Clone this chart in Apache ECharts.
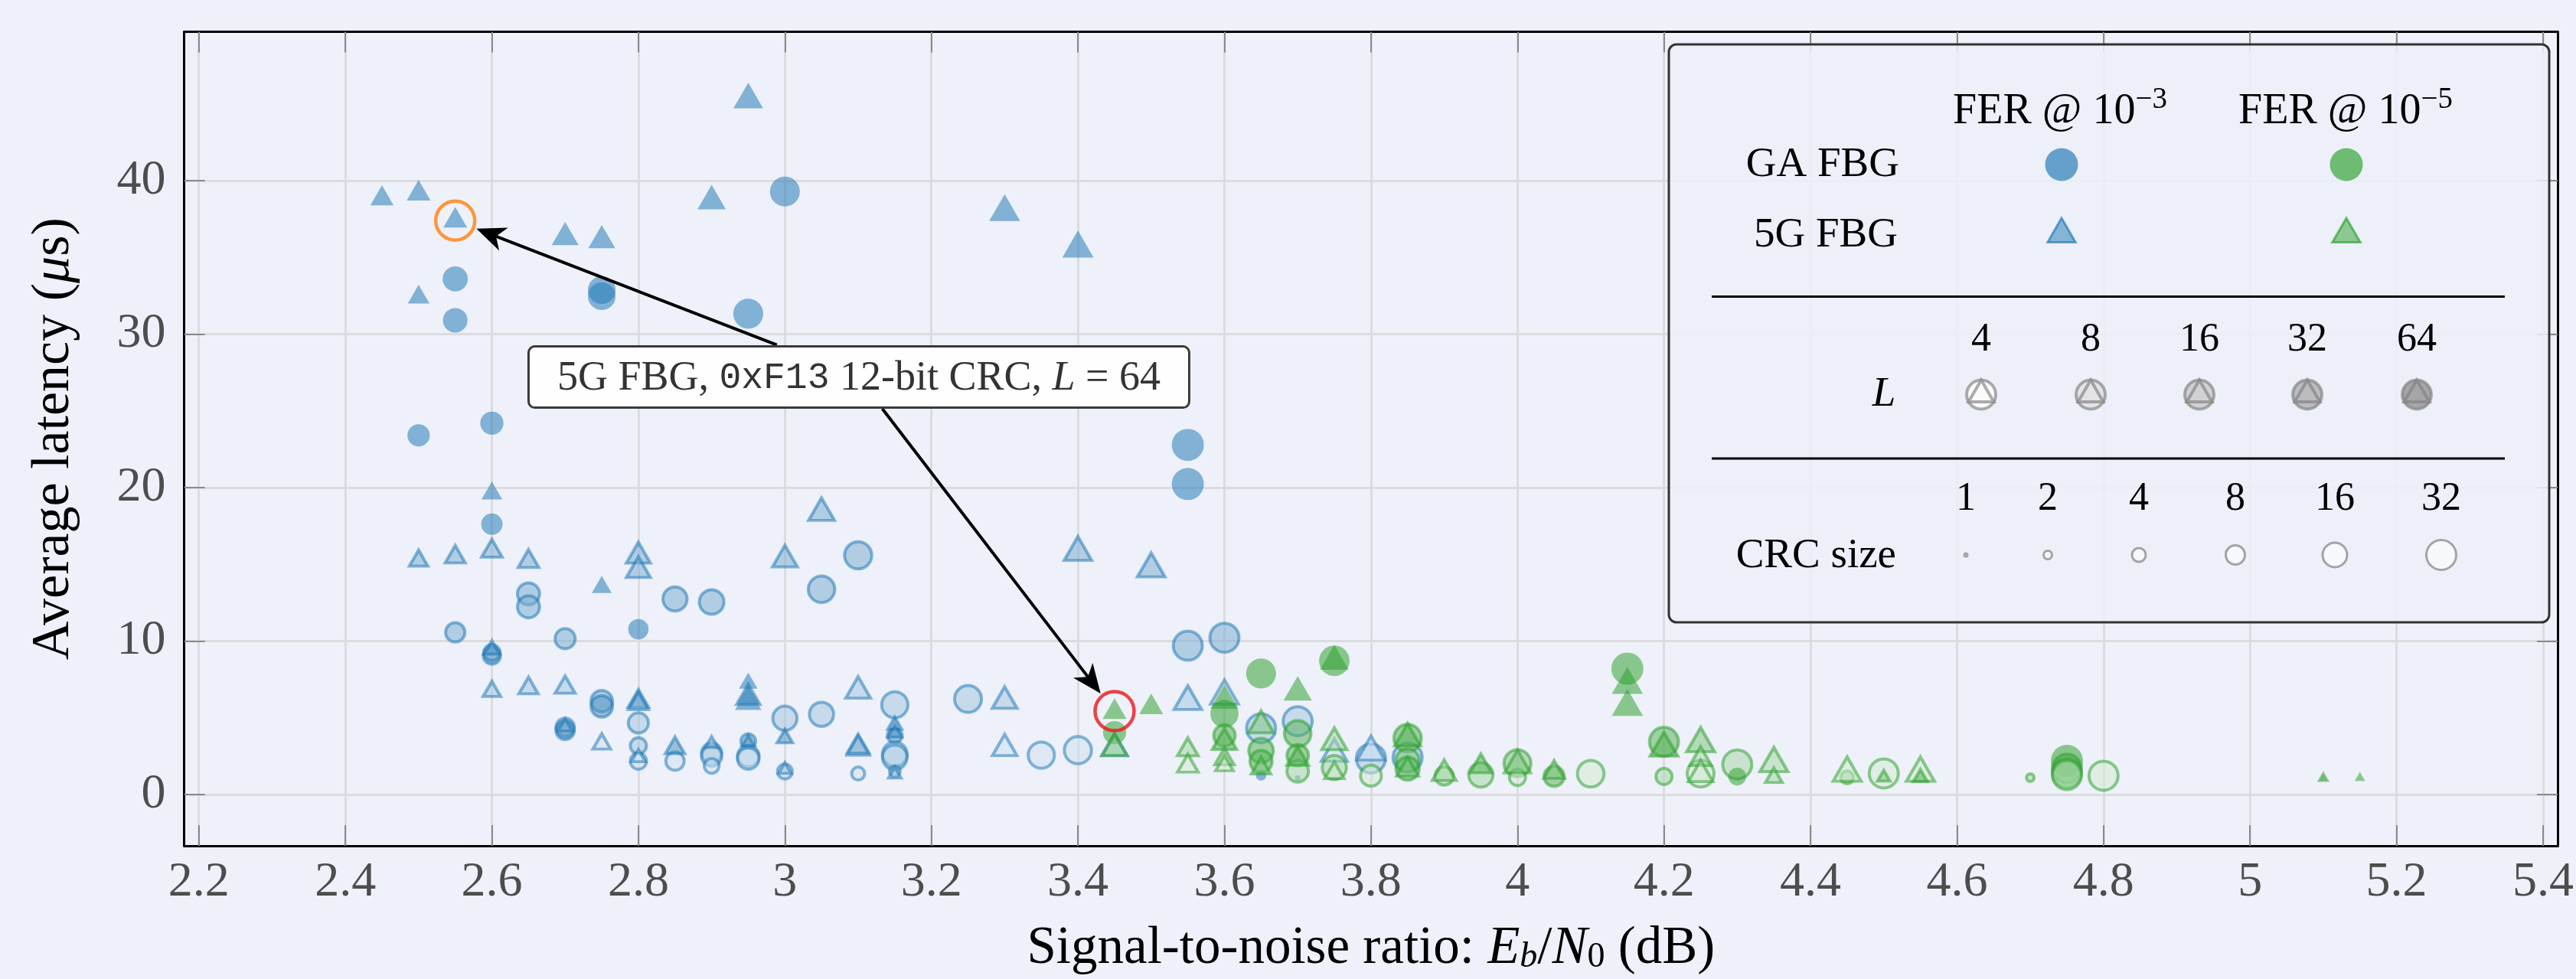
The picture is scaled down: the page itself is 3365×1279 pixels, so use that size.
<!DOCTYPE html>
<html><head><meta charset="utf-8">
<script src="https://cdn.jsdelivr.net/npm/echarts@6/dist/echarts.min.js"></script>
<style>html,body{margin:0;padding:0;background:#eef1f9;}#c{width:3365px;height:1279px;}</style>
</head><body><div id="c"></div>
<script>
// ---------------- data ----------------
const xTickValues = [2.2,2.4,2.6,2.8,3.0,3.2,3.4,3.6,3.8,4.0,4.2,4.4,4.6,4.8,5.0,5.2,5.4];
const yTickValues = [0,10,20,30,40];
const xRange = [2.18, 5.42];
const yRange = [-3.35, 49.7];

// each entry: [SNR (dB), average latency (us), list size L, CRC size (bits)]
const gaFer3 = [
 [2.5,23.4,64,9],[2.6,24.2,64,10],[2.55,33.6,64,13],[2.55,30.9,64,12],[2.75,32.87,64,18],[2.75,32.47,64,18],
 [2.95,31.33,64,24],[3.0,39.29,64,24],[3.55,22.78,64,32],[3.55,20.23,64,32],[2.6,17.61,64,8],
 [2.65,13.07,16,13],[2.65,12.23,16,13],[2.85,12.74,16,17],[2.9,12.54,16,18],[2.8,10.77,64,7],
 [2.55,10.56,16,9],[2.7,10.15,16,10],[2.6,9.05,32,7],[2.6,9.25,16,6],[2.75,6.08,16,12],[2.75,5.74,32,12],
 [2.8,4.66,8,10],[2.7,4.37,16,8],[2.7,4.17,32,8],[2.8,3.17,8,6],[2.8,2.17,4,6],[2.85,2.17,4,8],
 [2.9,2.7,16,10],[2.9,2.5,4,10],[2.9,1.86,4,5],[2.95,3.47,16,5],[2.95,2.5,8,12],[2.95,2.34,4,12],
 [3.1,15.58,16,25],[3.05,13.37,16,23],[3.0,4.96,8,17],[3.05,5.22,8,17],[3.15,5.84,8,22],[3.15,3.83,32,5],
 [3.15,2.62,4,18],[3.15,2.42,8,18],[3.15,1.51,8,3],[3.1,1.36,4,4],[3.0,1.49,4,5],[3.25,6.22,8,24],
 [3.35,2.56,4,22],[3.4,2.88,4,25],[3.55,9.69,16,32],[3.6,10.21,16,32],[3.65,4.31,8,32],[3.65,1.25,64,2],
 [3.7,4.77,8,32],[3.7,1.08,4,1],[3.8,2.34,8,32],[3.85,2.41,8,32]
];
const fbg5gFer3 = [
 [2.45,38.83,64,11],[2.5,39.15,64,12],[2.55,37.4,64,12],[2.5,32.4,64,9],[2.7,36.3,64,18],[2.75,36.1,64,18],
 [2.9,38.66,64,22],[2.95,45.27,64,26],[3.3,37.95,64,31],[3.4,35.58,64,32],[2.6,19.62,64,8],
 [2.5,15.23,16,9],[2.55,15.47,16,11],[2.6,15.85,16,12],[2.65,15.18,16,12],[2.75,13.5,64,7],
 [2.8,15.53,16,19],[2.8,14.59,16,19],[2.6,9.43,32,6],[2.6,6.71,8,8],[2.65,6.92,8,10],[2.7,6.97,8,11],
 [2.8,6.06,32,12],[2.8,5.9,16,11],[2.7,4.4,16,5],[2.75,3.29,4,8],[2.8,2.4,4,5],[2.85,3.02,32,10],
 [2.9,3.3,8,4],[2.95,7.24,64,6],[2.95,6.3,32,17],[2.95,6.0,64,17],[2.95,3.4,32,4],[3.05,18.35,16,24],
 [3.0,15.3,16,21],[3.4,15.77,16,30],[3.5,14.7,16,30],[3.1,6.74,8,21],[3.0,3.65,32,6],[3.15,4.5,32,5],
 [3.15,4.0,32,5],[3.1,2.97,8,15],[3.1,3.1,16,14],[3.0,1.6,8,4],[3.15,1.3,8,4],[3.3,6.08,8,21],
 [3.3,2.99,4,20],[3.45,3.0,4,24],[3.55,6.05,8,30],[3.6,6.41,4,31],[3.75,2.64,4,24],[3.8,2.76,4,31]
];
const gaFer5 = [
 [3.45,4.03,64,10],[3.6,5.25,64,19],[3.6,3.84,32,12],[3.65,7.88,64,24],[3.65,2.85,32,18],[3.65,2.15,32,13],
 [3.7,3.96,32,23],[3.7,2.55,32,12],[3.7,1.51,8,12],[3.75,8.71,64,26],[3.75,1.75,8,17],[3.8,1.22,4,11],
 [3.85,3.67,32,26],[3.85,2.22,16,15],[3.85,1.68,32,15],[3.9,1.2,8,8],[3.95,1.27,8,17],[4.0,2.03,16,24],
 [4.0,1.11,4,6],[4.05,1.18,32,10],[4.1,1.35,4,23],[4.15,8.2,64,32],[4.2,3.43,32,32],[4.2,1.17,8,6],
 [4.25,1.35,4,24],[4.3,1.95,8,32],[4.3,1.16,64,5],[4.45,1.11,16,4],[4.5,1.37,4,32],[4.7,1.09,8,2],
 [4.75,2.19,64,32],[4.75,1.68,32,32],[4.75,1.4,16,32],[4.75,1.26,8,32],[4.8,1.22,4,32]
];
const fbg5gFer5 = [
 [3.45,5.37,64,12],[3.5,5.68,64,12],[3.45,3.0,16,20],[3.55,2.91,8,12],[3.55,1.84,4,12],[3.6,6.11,64,21],
 [3.6,3.39,32,20],[3.6,2.29,8,10],[3.6,1.87,4,8],[3.65,4.49,16,23],[3.65,1.7,16,10],[3.7,6.65,64,22],
 [3.7,2.3,32,14],[3.75,8.66,64,23],[3.75,3.39,8,22],[3.75,1.4,4,10],[3.85,3.65,32,24],[3.85,1.6,16,14],
 [3.9,1.36,8,18],[3.95,1.82,32,14],[4.0,1.9,16,25],[4.05,1.43,16,12],[4.15,7.14,64,32],[4.15,5.7,64,32],
 [4.2,3.01,32,31],[4.25,3.31,16,32],[4.25,2.29,8,14],[4.25,1.3,4,20],[4.35,2.01,8,32],[4.35,1.09,8,7],
 [4.45,1.39,4,32],[4.5,1.1,16,4],[4.55,1.39,4,32],[4.55,1.1,32,5],[5.1,1.05,32,2],[5.15,1.07,64,2]
];

const listSizes = [4,8,16,32,64];
const crcSizes = [1,2,4,8,16,32];
const highlightPoints = [[2.55,37.4],[3.45,5.43]];
const arrowFrom = [[2.989,29.29],[3.133,25.14]];
const arrowTo = [[2.579,36.87],[3.431,6.58]];
const annotationAt = [3.101,27.2];

// ---------------- style ----------------
const SERIF = "'Liberation Serif','Times New Roman',serif";
const MONO = "'Liberation Mono','DejaVu Sans Mono',monospace";
const BLUE = [31,119,180], GREEN = [44,160,44];
const ALPHA = 0.66;
const FACE_T = {4:0.22, 8:0.42, 16:0.6, 32:0.8, 64:1};
const rgba = (c,a)=>`rgba(${c[0]},${c[1]},${c[2]},${a})`;
const mixWhite = (c,t)=>c.map(v=>Math.round(255+(v-255)*t));
const diam = crc => 7 + 7*Math.log2(crc);

function makeItem(p, shape, base){
  const [x,y,L,crc] = p;
  const d = diam(crc);
  const solid = L===64;
  const bw = solid ? 0 : 4;
  const st = {color: rgba(mixWhite(base, FACE_T[L]), ALPHA), borderColor: rgba(base, ALPHA), borderWidth: bw};
  if (shape==='circle') return {value:[x,y], symbol:'circle', symbolSize: d - bw, itemStyle: st};
  const r = 1.12*d/2 - bw*0.6;
  return {value:[x,y], symbol:'triangle', symbolSize:[1.732*r, 1.5*r], symbolOffset:[0,-0.25*r], itemStyle: st};
}
function series(name, arr, shape, base){
  return {name, type:'scatter', xAxisIndex:0, yAxisIndex:0, animation:false,
    emphasis:{disabled:true}, data: arr.map(p=>makeItem(p, shape, base))};
}

const chart = echarts.init(document.getElementById('c'), null, {width:3365, height:1279});
const fmt = v => String(+(+v).toFixed(2));
const axisLineStyle = {color:'#000', width:3};
const tickStyle = {color:'#8a8a8a', width:2};
const option = {
  backgroundColor:'#eef1f9',
  animation:false,
  grid:{left:240.6, right:17, top:41.6, bottom:171.4, containLabel:false},
  xAxis:[{
    type:'value', min:xRange[0], max:xRange[1], position:'bottom',
    axisLine:{show:true, onZero:false, lineStyle:axisLineStyle},
    axisTick:{show:true, inside:true, length:27, lineStyle:tickStyle, customValues:xTickValues},
    axisLabel:{show:true, customValues:xTickValues, formatter:fmt, color:'#4d4d4d', fontSize:64, fontFamily:SERIF, margin:16},
    splitLine:{show:true, lineStyle:{color:'#dcdcdf', width:3}},
    name:'Signal-to-noise ratio: {i|E}{bi|b}{r|/}{i|N}{b|0}{r| (dB)}',
    nameLocation:'middle', nameGap:100,
    nameTextStyle:{fontFamily:SERIF, fontSize:69, color:'#000', rich:{
      i:{fontFamily:SERIF, fontSize:69, fontStyle:'italic', color:'#000'},
      r:{fontFamily:SERIF, fontSize:69, color:'#000'},
      bi:{fontFamily:SERIF, fontSize:46, fontStyle:'italic', color:'#000', padding:[22,0,0,0]},
      b:{fontFamily:SERIF, fontSize:46, color:'#000', padding:[22,0,0,0]}
    }}
  },{
    type:'value', min:xRange[0], max:xRange[1], position:'top',
    axisLine:{show:true, onZero:false, lineStyle:axisLineStyle},
    axisTick:{show:true, inside:true, length:27, lineStyle:tickStyle, customValues:xTickValues},
    axisLabel:{show:false}, splitLine:{show:false}
  }],
  yAxis:[{
    type:'value', min:yRange[0], max:yRange[1], position:'left',
    axisLine:{show:true, onZero:false, lineStyle:axisLineStyle},
    axisTick:{show:true, inside:true, length:27, lineStyle:tickStyle, customValues:yTickValues},
    axisLabel:{show:true, customValues:yTickValues, formatter:fmt, color:'#4d4d4d', fontSize:64, fontFamily:SERIF, margin:24},
    splitLine:{show:true, lineStyle:{color:'#dcdcdf', width:3}},
    name:'Average latency ({i|μ}s)', nameLocation:'middle', nameRotate:90, nameGap:135,
    nameTextStyle:{fontFamily:SERIF, fontSize:70, color:'#000', rich:{
      i:{fontFamily:SERIF, fontSize:70, fontStyle:'italic', color:'#000'}
    }}
  },{
    type:'value', min:yRange[0], max:yRange[1], position:'right',
    axisLine:{show:true, onZero:false, lineStyle:axisLineStyle},
    axisTick:{show:true, inside:true, length:27, lineStyle:tickStyle, customValues:yTickValues},
    axisLabel:{show:false}, splitLine:{show:false}
  }],
  series:[
    series('GA FBG, FER 1e-3', gaFer3, 'circle', BLUE),
    series('5G FBG, FER 1e-3', fbg5gFer3, 'triangle', BLUE),
    series('GA FBG, FER 1e-5', gaFer5, 'circle', GREEN),
    series('5G FBG, FER 1e-5', fbg5gFer5, 'triangle', GREEN),
    {type:'scatter', xAxisIndex:0, yAxisIndex:0, z:5, animation:false, emphasis:{disabled:true}, silent:true,
     data: highlightPoints.map((p,i)=>({value:p, symbol:'circle', symbolSize:51,
       itemStyle:{color:'rgba(0,0,0,0)', borderColor: i===0 ? '#ff7f0e' : '#e8161b', borderWidth:4.5}}))}
  ]
};
chart.setOption(option);

// ---------------- annotations & legend (graphic) ----------------
const P = (x,y)=>chart.convertToPixel({gridIndex:0},[x,y]);
const g = [];
function arrow(a, b){
  const p0 = P(a[0],a[1]), p1 = P(b[0],b[1]);
  const dx = p1[0]-p0[0], dy = p1[1]-p0[1], len = Math.hypot(dx,dy);
  const ux = dx/len, uy = dy/len, nx = -uy, ny = ux;
  const L = 38, W = 16;
  const bx = p1[0]-ux*L, by = p1[1]-uy*L;
  g.push({type:'line', z:50, shape:{x1:p0[0], y1:p0[1], x2:p1[0]-ux*L*0.6, y2:p1[1]-uy*L*0.6}, style:{stroke:'#000', lineWidth:4}});
  g.push({type:'polygon', z:51, shape:{points:[[p1[0],p1[1]],[bx+nx*W,by+ny*W],[p1[0]-ux*L*0.72,p1[1]-uy*L*0.72],[bx-nx*W,by-ny*W]]}, style:{fill:'#000'}});
}
arrowFrom.forEach((a,i)=>arrow(a, arrowTo[i]));
const bc = P(annotationAt[0], annotationAt[1]);
const bw = 863, bh = 80;
g.push({type:'rect', z:52, shape:{x:bc[0]-bw/2, y:bc[1]-bh/2, width:bw, height:bh, r:8}, style:{fill:'rgba(255,255,255,0.92)', stroke:'#3a3a3a', lineWidth:3}});
g.push({type:'text', z:53, style:{x:bc[0], y:bc[1]+2, align:'center', verticalAlign:'middle',
  text:'{r|5G FBG, }{m|0xF13}{r| 12-bit CRC, }{i|L}{r| = 64}',
  rich:{r:{fontFamily:SERIF, fontSize:54, fill:'#333'}, m:{fontFamily:MONO, fontSize:48, fill:'#333'}, i:{fontFamily:SERIF, fontSize:54, fontStyle:'italic', fill:'#333'}}}});

// legend box
const LZ = 60;
g.push({type:'rect', z:LZ, shape:{x:2180, y:58, width:1150, height:755, r:10}, style:{fill:'rgba(236,240,249,0.85)', stroke:'#333', lineWidth:3}});
const ltxt = (x,y,text,opt)=>g.push({type:'text', z:LZ+1, style:Object.assign({x, y, text, align:'center', verticalAlign:'middle', fontFamily:SERIF, fontSize:55, fill:'#000'}, opt||{})});
const supRich = {a:{fontFamily:SERIF, fontSize:56, fill:'#000'}, s:{fontFamily:SERIF, fontSize:39, fill:'#000', padding:[0,0,30,0]}};
ltxt(2691, 146, '{a|FER @ 10}{s|−3}', {rich:supRich});
ltxt(3064, 146, '{a|FER @ 10}{s|−5}', {rich:supRich});
ltxt(2481, 216, 'GA FBG', {align:'right'});
ltxt(2479, 308, '5G FBG', {align:'right'});
[[2693,BLUE],[3065,GREEN]].forEach(([cx,c])=>{
  g.push({type:'circle', z:LZ+1, shape:{cx, cy:215, r:21.5}, style:{fill:rgba(c,ALPHA)}});
  const r = 21;
  g.push({type:'polygon', z:LZ+1, shape:{points:[[cx,306-r],[cx+0.866*r,306+r/2],[cx-0.866*r,306+r/2]]},
    style:{fill:rgba(mixWhite(c,0.78),ALPHA), stroke:rgba(c,ALPHA), lineWidth:3}});
});
g.push({type:'line', z:LZ+1, shape:{x1:2236, y1:387.5, x2:3272, y2:387.5}, style:{stroke:'#000', lineWidth:3}});
g.push({type:'line', z:LZ+1, shape:{x1:2236, y1:599, x2:3272, y2:599}, style:{stroke:'#000', lineWidth:3}});
const lX = [2588,2731,2873,3014,3157];
const lFaces = ['#fbfbfc','#e3e3e6','#d1d1d4','#bcbcbf','#a6a6a9'];
ltxt(2461, 516, 'L', {fontStyle:'italic'});
listSizes.forEach((L,i)=>{
  ltxt(lX[i], 444, String(L), {fontSize:52});
  const cx = lX[i], cy = 515.5, r = 19;
  g.push({type:'circle', z:LZ+1, shape:{cx, cy, r}, style:{fill:lFaces[i], stroke:'rgba(128,128,128,0.65)', lineWidth:4}});
  g.push({type:'polygon', z:LZ+1, shape:{points:[[cx,cy-r],[cx+0.866*r,cy+r/2],[cx-0.866*r,cy+r/2]]}, style:{fill:lFaces[i], stroke:'rgba(128,128,128,0.65)', lineWidth:4}});
});
const cX = [2568,2675,2794,2920,3050,3189];
ltxt(2477, 727, 'CRC size', {align:'right'});
crcSizes.forEach((c,i)=>{
  ltxt(cX[i], 652, String(c), {fontSize:52});
  g.push({type:'circle', z:LZ+1, shape:{cx:cX[i], cy:725, r:(diam(c)-3)/2}, style:{fill:'#f7f8fb', stroke:'rgba(128,128,128,0.7)', lineWidth:3}});
});
chart.setOption({graphic:{elements:g}});
</script></body></html>
